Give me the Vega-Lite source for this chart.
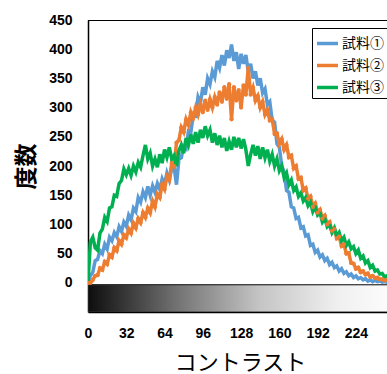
{
  "$schema": "https://vega.github.io/schema/vega-lite/v6.json",
  "autosize": "none",
  "width": 299,
  "height": 292,
  "padding": {"left": 88, "top": 20, "right": 0, "bottom": 62},
  "background": "white",
  "view": {"stroke": null},
  "config": {
    "axis": {"labelFont": "Liberation Sans", "labelFontWeight": "bold", "labelFontSize": 14, "labelColor": "black", "grid": false, "ticks": false, "tickSize": 0, "labelOverlap": false},
    "legend": {"labelFont": "Noto Sans CJK JP", "labelFontSize": 14, "labelColor": "black"}
  },
  "data": {"values": [
    {"x":0,"試料①":0,"試料②":0,"試料③":0},
    {"x":2,"試料①":12,"試料②":0,"試料③":70},
    {"x":4,"試料①":18,"試料②":5,"試料③":78},
    {"x":6,"試料①":38,"試料②":12,"試料③":60},
    {"x":8,"試料①":40,"試料②":13,"試料③":56},
    {"x":10,"試料①":55,"試料②":25,"試料③":85},
    {"x":12,"試料①":50,"試料②":22,"試料③":92},
    {"x":14,"試料①":66,"試料②":36,"試料③":112},
    {"x":16,"試料①":58,"試料②":32,"試料③":105},
    {"x":18,"試料①":78,"試料②":48,"試料③":128},
    {"x":20,"試料①":72,"試料②":44,"試料③":130},
    {"x":22,"試料①":86,"試料②":60,"試料③":150},
    {"x":24,"試料①":79,"試料②":55,"試料③":148},
    {"x":26,"試料①":96,"試料②":72,"試料③":170},
    {"x":28,"試料①":88,"試料②":66,"試料③":175},
    {"x":30,"試料①":104,"試料②":82,"試料③":195},
    {"x":32,"試料①":97,"試料②":77,"試料③":185},
    {"x":34,"試料①":116,"試料②":92,"試料③":196},
    {"x":36,"試料①":108,"試料②":85,"試料③":184},
    {"x":38,"試料①":128,"試料②":102,"試料③":200},
    {"x":40,"試料①":122,"試料②":94,"試料③":190},
    {"x":42,"試料①":146,"試料②":110,"試料③":206},
    {"x":44,"試料①":138,"試料②":103,"試料③":198},
    {"x":46,"試料①":156,"試料②":120,"試料③":218},
    {"x":48,"試料①":146,"試料②":112,"試料③":236},
    {"x":50,"試料①":165,"試料②":128,"試料③":212},
    {"x":52,"試料①":150,"試料②":120,"試料③":222},
    {"x":54,"試料①":166,"試料②":140,"試料③":200},
    {"x":56,"試料①":155,"試料②":130,"試料③":212},
    {"x":58,"試料①":170,"試料②":152,"試料③":198},
    {"x":60,"試料①":160,"試料②":146,"試料③":220},
    {"x":62,"試料①":178,"試料②":168,"試料③":205},
    {"x":64,"試料①":168,"試料②":160,"試料③":228},
    {"x":66,"試料①":188,"試料②":182,"試料③":215},
    {"x":68,"試料①":176,"試料②":176,"試料③":232},
    {"x":70,"試料①":196,"試料②":205,"試料③":212},
    {"x":72,"試料①":198,"試料②":200,"試料③":218},
    {"x":74,"試料①":168,"試料②":240,"試料③":200},
    {"x":76,"試料①":212,"試料②":244,"試料③":226},
    {"x":78,"試料①":214,"試料②":266,"試料③":236},
    {"x":80,"試料①":234,"試料②":258,"試料③":222},
    {"x":82,"試料①":230,"試料②":280,"試料③":248},
    {"x":84,"試料①":260,"試料②":270,"試料③":236},
    {"x":86,"試料①":258,"試料②":292,"試料③":254},
    {"x":88,"試料①":288,"試料②":282,"試料③":238},
    {"x":90,"試料①":286,"試料②":300,"試料③":258},
    {"x":92,"試料①":318,"試料②":288,"試料③":240},
    {"x":94,"試料①":308,"試料②":306,"試料③":262},
    {"x":96,"試料①":335,"試料②":292,"試料③":248},
    {"x":98,"試料①":322,"試料②":312,"試料③":268},
    {"x":100,"試料①":350,"試料②":296,"試料③":252},
    {"x":102,"試料①":340,"試料②":314,"試料③":262},
    {"x":104,"試料①":362,"試料②":300,"試料③":240},
    {"x":106,"試料①":352,"試料②":318,"試料③":256},
    {"x":108,"試料①":380,"試料②":305,"試料③":236},
    {"x":110,"試料①":368,"試料②":326,"試料③":252},
    {"x":112,"試料①":390,"試料②":310,"試料③":232},
    {"x":114,"試料①":372,"試料②":335,"試料③":248},
    {"x":116,"試料①":398,"試料②":315,"試料③":226},
    {"x":118,"試料①":385,"試料②":340,"試料③":242},
    {"x":120,"試料①":408,"試料②":280,"試料③":228},
    {"x":122,"試料①":380,"試料②":335,"試料③":250},
    {"x":124,"試料①":395,"試料②":312,"試料③":232},
    {"x":126,"試料①":366,"試料②":330,"試料③":248},
    {"x":128,"試料①":392,"試料②":300,"試料③":230},
    {"x":130,"試料①":375,"試料②":338,"試料③":246},
    {"x":132,"試料①":390,"試料②":322,"試料③":228},
    {"x":134,"試料①":362,"試料②":368,"試料③":200},
    {"x":136,"試料①":375,"試料②":322,"試料③":220},
    {"x":138,"試料①":350,"試料②":334,"試料③":236},
    {"x":140,"試料①":362,"試料②":312,"試料③":218},
    {"x":142,"試料①":338,"試料②":320,"試料③":234},
    {"x":144,"試料①":350,"試料②":300,"試料③":212},
    {"x":146,"試料①":325,"試料②":310,"試料③":232},
    {"x":148,"試料①":332,"試料②":288,"試料③":214},
    {"x":150,"試料①":305,"試料②":296,"試料③":228},
    {"x":152,"試料①":310,"試料②":278,"試料③":208},
    {"x":154,"試料①":278,"試料②":280,"試料③":220},
    {"x":156,"試料①":275,"試料②":255,"試料③":200},
    {"x":158,"試料①":238,"試料②":256,"試料③":212},
    {"x":160,"試料①":232,"試料②":238,"試料③":192},
    {"x":162,"試料①":200,"試料②":246,"試料③":200},
    {"x":164,"試料①":190,"試料②":228,"試料③":180},
    {"x":166,"試料①":158,"試料②":236,"試料③":188},
    {"x":168,"試料①":155,"試料②":215,"試料③":168},
    {"x":170,"試料①":130,"試料②":218,"試料③":176},
    {"x":172,"試料①":128,"試料②":196,"試料③":158},
    {"x":174,"試料①":110,"試料②":200,"試料③":164},
    {"x":176,"試料①":112,"試料②":178,"試料③":148},
    {"x":178,"試料①":94,"試料②":180,"試料③":154},
    {"x":180,"試料①":96,"試料②":158,"試料③":140},
    {"x":182,"試料①":80,"試料②":162,"試料③":146},
    {"x":184,"試料①":82,"試料②":144,"試料③":132},
    {"x":186,"試料①":64,"試料②":148,"試料③":138},
    {"x":188,"試料①":66,"試料②":130,"試料③":122},
    {"x":190,"試料①":52,"試料②":136,"試料③":130},
    {"x":192,"試料①":56,"試料②":120,"試料③":116},
    {"x":194,"試料①":44,"試料②":125,"試料③":120},
    {"x":196,"試料①":48,"試料②":110,"試料③":104},
    {"x":198,"試料①":38,"試料②":115,"試料③":110},
    {"x":200,"試料①":42,"試料②":100,"試料③":96},
    {"x":202,"試料①":31,"試料②":104,"試料③":100},
    {"x":204,"試料①":35,"試料②":89,"試料③":86},
    {"x":206,"試料①":26,"試料②":92,"試料③":94},
    {"x":208,"試料①":29,"試料②":76,"試料③":80},
    {"x":210,"試料①":20,"試料②":79,"試料③":86},
    {"x":212,"試料①":24,"試料②":63,"試料③":72},
    {"x":214,"試料①":16,"試料②":66,"試料③":78},
    {"x":216,"試料①":19,"試料②":50,"試料③":64},
    {"x":218,"試料①":12,"試料②":51,"試料③":70},
    {"x":220,"試料①":15,"試料②":34,"試料③":58},
    {"x":222,"試料①":9,"試料②":33,"試料③":62},
    {"x":224,"試料①":12,"試料②":24,"試料③":50},
    {"x":226,"試料①":7,"試料②":26,"試料③":56},
    {"x":228,"試料①":9,"試料②":18,"試料③":42},
    {"x":230,"試料①":5,"試料②":20,"試料③":46},
    {"x":232,"試料①":7,"試料②":14,"試料③":34},
    {"x":234,"試料①":3,"試料②":16,"試料③":38},
    {"x":236,"試料①":5,"試料②":10,"試料③":26},
    {"x":238,"試料①":2,"試料②":12,"試料③":30},
    {"x":240,"試料①":4,"試料②":8,"試料③":20},
    {"x":242,"試料①":2,"試料②":9,"試料③":22},
    {"x":244,"試料①":3,"試料②":6,"試料③":15},
    {"x":246,"試料①":1,"試料②":6,"試料③":16},
    {"x":248,"試料①":2,"試料②":4,"試料③":10},
    {"x":250,"試料①":1,"試料②":5,"試料③":12},
    {"x":252,"試料①":1,"試料②":3,"試料③":7},
    {"x":254,"試料①":0,"試料②":2,"試料③":8}
  ]},
  "transform": [{"fold": ["試料①", "試料②", "試料③"], "as": ["series", "count"]}],
  "encoding": {
    "x": {"type": "quantitative",
      "scale": {"domain": [0, 250], "nice": false, "zero": false},
      "axis": {"values": [0, 32, 64, 96, 128, 160, 192, 224], "title": "コントラスト",
        "titleFont": "Noto Sans CJK JP", "titleFontSize": 22, "titleFontWeight": "normal", "titleColor": "black",
        "titleX": 152, "titleY": 50, "titleBaseline": "middle", "titleAnchor": null,
        "labelPadding": 14, "domainColor": "black", "domainWidth": 1.5, "labelFlush": false}},
    "y": {"type": "quantitative",
      "scale": {"domain": [-50, 450], "nice": false, "zero": false},
      "axis": {"values": [0, 50, 100, 150, 200, 250, 300, 350, 400, 450], "title": "度数",
        "titleFont": "Noto Sans CJK JP", "titleFontSize": 23, "titleFontWeight": "bold", "titleColor": "black",
        "titleX": -62, "titleY": 146, "titleBaseline": "middle", "titleAngle": -90,
        "labelPadding": 16, "domainColor": "black", "domainWidth": 1.5, "labelFlush": false, "labelOverlap": false}}
  },
  "layer": [
    {
      "mark": {"type": "rect", "clip": true, "stroke": "#333333", "strokeWidth": 1,
        "fill": {"gradient": "linear", "x1": 0, "y1": 0, "x2": 1, "y2": 0,
          "stops": [
            {"offset": 0, "color": "#0d0d0d"},
            {"offset": 0.3, "color": "#777777"},
            {"offset": 0.55, "color": "#c4c4c4"},
            {"offset": 0.8, "color": "#efefef"},
            {"offset": 1, "color": "#ffffff"}
          ]}},
      "encoding": {
        "x": {"datum": 0},
        "x2": {"datum": 260},
        "y": {"datum": -3.5},
        "y2": {"datum": -50}
      }
    },
    {
      "mark": {"type": "rule", "clip": true, "color": "black", "strokeWidth": 1.5},
      "encoding": {
        "x": {"datum": 0},
        "x2": {"datum": 260},
        "y": {"datum": 450}
      }
    },
    {
      "mark": {"type": "line", "strokeWidth": 3.5, "clip": true, "interpolate": "linear"},
      "encoding": {
        "x": {"field": "x"},
        "y": {"field": "count"},
        "color": {"field": "series", "type": "nominal",
          "scale": {"domain": ["試料①", "試料②", "試料③"], "range": ["#5B9BD5", "#ED7D31", "#00B050"]},
          "legend": {"title": null, "orient": "none", "legendX": 224, "legendY": 8,
            "strokeColor": "black", "fillColor": "white", "padding": 3,
            "symbolType": "stroke", "symbolSize": 440, "symbolStrokeWidth": 3.5,
            "labelOffset": 2, "rowPadding": 2}}
      }
    },
    {
      "transform": [{"filter": "datum.series == '試料②'"}],
      "mark": {"type": "point", "filled": true, "size": 18, "opacity": 1, "clip": true, "color": "#ED7D31"},
      "encoding": {
        "x": {"field": "x"},
        "y": {"field": "count"}
      }
    }
  ]
}
